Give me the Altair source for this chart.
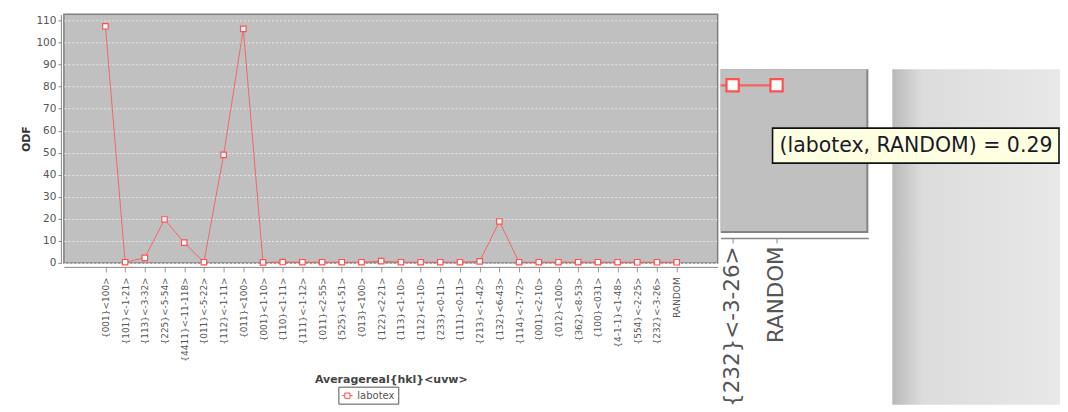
import json
import altair as alt
import pandas as pd

# ---------------- data ----------------
categories = [
    "{001}<100>", "{101}<-1-21>", "{113}<-3-32>", "{225}<-5-54>", "{4411}<-11-118>",
    "{011}<-5-22>", "{112}<-1-11>", "{011}<100>", "{001}<1-10>", "{110}<1-11>",
    "{111}<-1-12>", "{011}<2-55>", "{525}<1-51>", "{013}<100>", "{122}<2-21>",
    "{113}<1-10>", "{112}<1-10>", "{233}<0-11>", "{111}<0-11>", "{213}<-1-42>",
    "{132}<6-43>", "{114}<-1-72>", "{001}<2-10>", "{012}<100>", "{362}<8-53>",
    "{100}<031>", "{4-1-1}<1-48>", "{554}<-2-25>", "{232}<-3-26>", "RANDOM",
]
odf_values = [
    107.4, 0.3, 2.3, 19.7, 9.2,
    0.3, 49.0, 106.2, 0.2, 0.4,
    0.3, 0.3, 0.3, 0.3, 0.8,
    0.3, 0.3, 0.3, 0.3, 0.7,
    18.8, 0.3, 0.3, 0.3, 0.3,
    0.3, 0.3, 0.29, 0.29, 0.29,
]
series_name = "labotex"
y_ticks = list(range(0, 111, 10))
zoom_ticks = [28, 29]          # indices of the two categories shown in the zoomed inset

df = pd.DataFrame({
    "orientation": categories,
    "ODF": odf_values,
    "series": series_name,
    "idx": list(range(len(categories))),
})
tail = df.iloc[-3:].reset_index(drop=True)
tip = pd.DataFrame({"label": [f"({series_name}, {categories[-1]}) = {odf_values[-1]}"]})
one = pd.DataFrame({"k": [0]})

FONT = "DejaVu Sans"
RED = "#ff5050"
label_expr = f"{json.dumps(categories)}[datum.value]"

# ---------------- main chart ----------------
x_main = alt.X(
    "idx:Q",
    scale=alt.Scale(domain=[-2.108, len(categories) - 1 + 2.08], nice=False, zero=False),
    axis=alt.Axis(
        values=list(range(len(categories))), labelExpr=label_expr,
        title="Averagereal{hkl}<uvw>", labelAngle=-90, labelFont=FONT, labelFontSize=9,
        labelColor="#555", labelPadding=5, labelOverlap=False, labelFlush=False,
        tickColor="#999", tickSize=5, domainColor="#888", offset=4, grid=False,
        titleFont=FONT, titleFontSize=11, titleFontWeight="bold", titleColor="#444",
        titlePadding=12,
    ),
)
y_main = alt.Y(
    "ODF:Q",
    scale=alt.Scale(domain=[0, 112.8], nice=False, zero=True),
    axis=alt.Axis(
        values=y_ticks, title="ODF", labelFont=FONT, labelFontSize=10.5, labelColor="#555",
        labelPadding=2, tickColor="#888", tickSize=3, domainColor="#888", offset=3,
        grid=True, gridColor="#e6e6e6", gridDash=[2, 2], gridWidth=1,
        titleFont=FONT, titleFontSize=11, titleFontWeight="bold", titleColor="#333",
        titlePadding=4,
    ),
)

base = alt.Chart(df).encode(x=x_main, y=y_main)
line = base.mark_line(color=RED, strokeWidth=1, opacity=0.8)
points = base.mark_point(
    shape="square", size=30, fill="white", fillOpacity=1, strokeWidth=1.2, opacity=1
).encode(
    stroke=alt.Stroke(
        "series:N", scale=alt.Scale(range=[RED]),
        legend=alt.Legend(
            title=None, orient="none", legendX=275, legendY=373, strokeColor="#555",
            padding=3, cornerRadius=0, fillColor="white",
            symbolType="M-1,0H-0.5M0.5,0H1M-0.5,-0.5H0.5V0.5H-0.5Z", symbolSize=110,
            symbolFillColor="white", symbolStrokeWidth=1, labelFont=FONT,
            labelFontSize=10, labelColor="#555",
        ),
    )
)
main = alt.layer(line, points).properties(
    width=655, height=249,
    view=alt.ViewBackground(fill="#c0c0c0", stroke="#7f7f7f", strokeWidth=1.5),
)

# ---------------- zoomed inset (right part of the screenshot) ----------------
x_b = alt.X(
    "idx:Q", scale=alt.Scale(domain=[27.727, 31.09], nice=False, zero=False),
    axis=alt.Axis(
        values=zoom_ticks, labelExpr=label_expr, title=None,
        labelAngle=-90, labelFont=FONT, labelFontSize=21.5, labelColor="#555", labelPadding=3,
        grid=False, tickColor="#888", tickSize=5, domainColor="#888", domainWidth=1.5,
    ),
)
y_b = alt.Y("ODF:Q", scale=alt.Scale(domain=[0, 0.322], range=[217, 55], nice=False, zero=False), axis=None)

grad = alt.Chart(one).mark_rect(
    fill=alt.Gradient(
        gradient="linear", x1=0, x2=1, y1=0, y2=0,
        stops=[alt.GradientStop(offset=0, color="#b9b9b9"),
               alt.GradientStop(offset=0.18, color="#dcdcdc"),
               alt.GradientStop(offset=1, color="#e8e8e8")],
    )
).encode(x=alt.value(172), x2=alt.value(340), y=alt.value(55), y2=alt.value(391))
panel_shadow = alt.Chart(one).mark_rect(fill="#858585").encode(
    x=alt.value(0), x2=alt.value(148), y=alt.value(55), y2=alt.value(219)
)
panel = alt.Chart(one).mark_rect(fill="#c0c0c0").encode(
    x=alt.value(0), x2=alt.value(146), y=alt.value(55), y2=alt.value(217)
)
b_line = alt.Chart(tail).mark_line(color=RED, strokeWidth=2.2, opacity=0.85, clip=True).encode(x=x_b, y=y_b)
b_pts = alt.Chart(tail).transform_filter(alt.datum.idx >= zoom_ticks[0]).mark_point(
    shape="square", size=150, fill="white", fillOpacity=1, stroke=RED, strokeWidth=2.2, opacity=1
).encode(x=x_b, y=y_b)
tip_box = alt.Chart(one).mark_rect(fill="#ffffe1", stroke="#111", strokeWidth=1.6).encode(
    x=alt.value(52), x2=alt.value(339), y=alt.value(114), y2=alt.value(149)
)
tip_text = alt.Chart(tip).mark_text(
    font=FONT, fontSize=20.5, color="#1a1a2a", align="left", baseline="middle"
).encode(x=alt.value(59), y=alt.value(132), text="label:N")

inset = alt.layer(grad, panel_shadow, panel, b_line, b_pts, tip_box, tip_text).properties(
    width=148, height=224, view=alt.ViewBackground(fill=None, stroke=None)
)

chart = alt.hconcat(main, inset, spacing=2).properties(
    padding={"left": 12, "top": 5, "right": 0, "bottom": 0}
).configure(font=FONT).configure_view(stroke=None)

chart.save("out.html", embed_options={"renderer": "svg", "actions": False})
